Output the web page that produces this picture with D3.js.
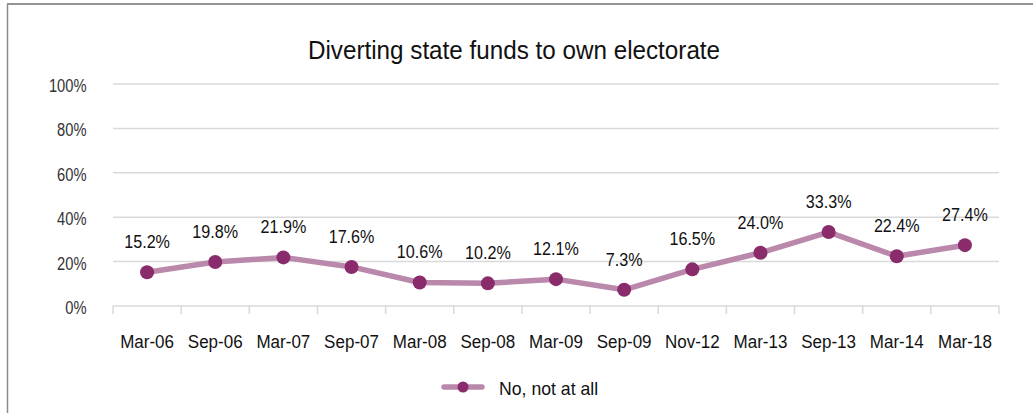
<!DOCTYPE html>
<html>
<head>
<meta charset="utf-8">
<script src="https://cdn.jsdelivr.net/npm/d3@7"></script>
<style>
  html, body { margin: 0; padding: 0; background: #fff; }
  svg { display: block; }
  text { font-family: "Liberation Sans", Arial, sans-serif; }
</style>
</head>
<body>
<svg id="chart" width="1033" height="413"></svg>
<script>
// Survey waves and share answering "No, not at all"
const categories = ["Mar-06", "Sep-06", "Mar-07", "Sep-07", "Mar-08", "Sep-08", "Mar-09",
                    "Sep-09", "Nov-12", "Mar-13", "Sep-13", "Mar-14", "Mar-18"];
const values = [15.2, 19.8, 21.9, 17.6, 10.6, 10.2, 12.1, 7.3, 16.5, 24.0, 33.3, 22.4, 27.4];
const yTicks = [0, 20, 40, 60, 80, 100];
const seriesName = "No, not at all";
const title = "Diverting state funds to own electorate";

const W = 1033, H = 413;
const plot = { left: 113, right: 999, top: 84, bottom: 306 };
const lineColor = "#b988ab";
const markerColor = "#8a2b6c";
const gridColor = "#d9d9d9";
const textColor = "#111";

const svg = d3.select("#chart");

// Narrowed text: a condensed look from a regular face, squeezed horizontally
function label(parent, x, y, str, size, sx, anchor, fill) {
  return parent.append("text")
    .attr("transform", `translate(${x},${y}) scale(${sx},1)`)
    .attr("text-anchor", anchor)
    .attr("font-size", size)
    .attr("fill", fill || textColor)
    .text(str);
}

// Outer frame (top and left edges visible)
svg.append("line").attr("x1", 7).attr("x2", W).attr("y1", 4).attr("y2", 4)
  .attr("stroke", "#2a2a2a").attr("stroke-width", 1.2);
svg.append("line").attr("x1", 7.5).attr("x2", 7.5).attr("y1", 4).attr("y2", H)
  .attr("stroke", "#8c8c8c").attr("stroke-width", 1.5);

const x = d3.scaleBand().domain(categories).range([plot.left, plot.right]).padding(0);
const y = d3.scaleLinear().domain([0, 100]).range([plot.bottom, plot.top]);
const cx = c => x(c) + x.bandwidth() / 2;

// Title, centred on the whole chart area
label(svg, 514, 59, title, 25, 0.97, "middle");

// Horizontal gridlines
svg.append("g")
  .selectAll("line")
  .data(yTicks.filter(d => d > 0))
  .join("line")
  .attr("x1", plot.left).attr("x2", plot.right)
  .attr("y1", d => y(d)).attr("y2", d => y(d))
  .attr("stroke", gridColor).attr("stroke-width", 1.5);

// Y axis labels
const gy = svg.append("g");
yTicks.forEach(t => label(gy, 86.5, y(t) + 8, t + "%", 18.6, 0.79, "end", "#333"));

// X axis line with tick marks at category boundaries
const gx = svg.append("g").attr("transform", `translate(0,${plot.bottom})`);
gx.append("line")
  .attr("x1", plot.left).attr("x2", plot.right).attr("y1", 0).attr("y2", 0)
  .attr("stroke", gridColor).attr("stroke-width", 1.5);
const bounds = categories.map(c => x(c)).concat([plot.right]);
gx.selectAll("line.tick")
  .data(bounds)
  .join("line")
  .attr("class", "tick")
  .attr("x1", d => d).attr("x2", d => d)
  .attr("y1", 0).attr("y2", 8)
  .attr("stroke", gridColor).attr("stroke-width", 1.5);
categories.forEach(c => label(gx, cx(c), 42, c, 18.5, 0.92, "middle"));

// Series line
const pts = categories.map((c, i) => ({ c, v: values[i] }));
const line = d3.line().x(d => cx(d.c)).y(d => y(d.v));
svg.append("path")
  .datum(pts)
  .attr("d", line)
  .attr("fill", "none")
  .attr("stroke", lineColor)
  .attr("stroke-width", 5.5)
  .attr("stroke-linejoin", "round");

// Markers
svg.append("g")
  .selectAll("circle")
  .data(pts)
  .join("circle")
  .attr("cx", d => cx(d.c))
  .attr("cy", d => y(d.v))
  .attr("r", 7)
  .attr("fill", markerColor);

// Value labels
const gl = svg.append("g");
pts.forEach(d => label(gl, cx(d.c), y(d.v) - 24, d.v.toFixed(1) + "%", 19, 0.85, "middle"));

// Legend
const lg = svg.append("g");
lg.append("line").attr("x1", 444).attr("x2", 482).attr("y1", 387).attr("y2", 387)
  .attr("stroke", lineColor).attr("stroke-width", 5.5).attr("stroke-linecap", "round");
lg.append("circle").attr("cx", 463).attr("cy", 387).attr("r", 5.5).attr("fill", markerColor);
label(lg, 499, 395, seriesName, 18.6, 0.95, "start");
</script>
</body>
</html>
